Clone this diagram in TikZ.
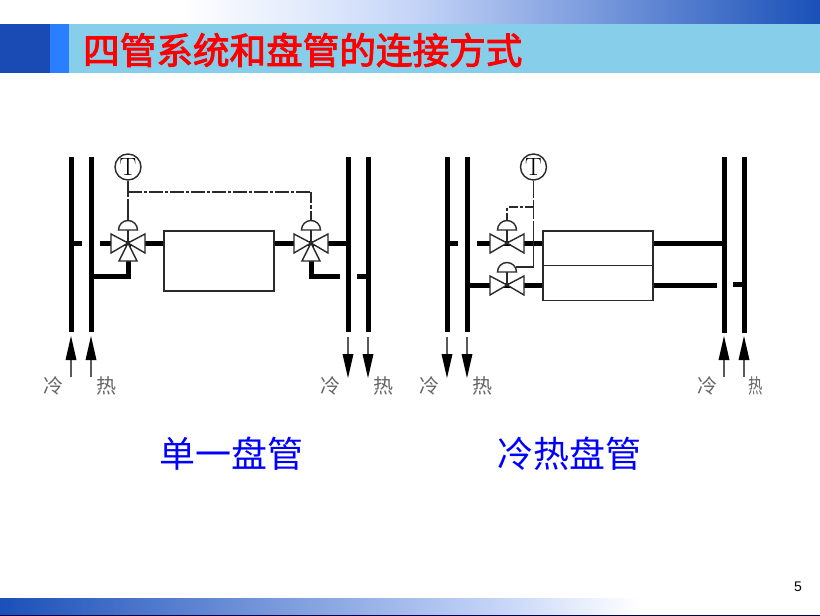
\documentclass[tikz,border=0pt]{standalone}
\usepackage{fontspec}
\newfontfamily\cjk{Noto Sans CJK SC}
\newfontfamily\cjktitle[FakeBold=2.4]{Noto Sans CJK SC}
\setsansfont{Liberation Sans}
\definecolor{tbmid}{HTML}{DDE7FB}
\definecolor{tbmid2}{HTML}{C3D3F7}
\definecolor{tbend}{HTML}{1A50B8}
\definecolor{band}{HTML}{87CEEB}
\definecolor{darkblue}{HTML}{1A4BB5}
\definecolor{midblue}{HTML}{2A7FFF}
\definecolor{lineg}{HTML}{2A2A2A}
\pgfdeclarehorizontalshading{topgrad}{100bp}{
  color(0bp)=(white); color(36bp)=(white);
  color(45bp)=(tbmid); color(50.5bp)=(tbmid2); color(75bp)=(tbend); color(100bp)=(tbend)}
\pgfdeclarehorizontalshading{botgrad}{100bp}{
  color(0bp)=(tbend); color(25bp)=(tbend); color(55bp)=(tbmid2); color(64bp)=(white); color(100bp)=(white)}
\tikzset{
  x=1pt,y=-1pt,
  pipe/.style={line width=5pt,black},
  riser/.style={line width=5pt,black},
  thin box/.style={draw=lineg,line width=1.4pt,fill=white,inner sep=0pt,minimum width=0pt},
  vline/.style={draw=lineg,line width=1.4pt,fill=white,line join=miter},
  ctrl/.style={draw=lineg,line width=1.4pt},
  ctrldash/.style={draw=lineg,line width=1.4pt,dash pattern=on 14pt off 2pt on 3pt off 2pt},
  sensor/.style={circle,draw=lineg,line width=1.4pt,minimum size=26pt,inner sep=0pt,fill=white,font=\fontsize{25}{25}\selectfont},
  flowtail/.style={line width=2pt,black!65},
  flowhead/.style={fill=black,draw=none},
  medium/.style={font=\cjk\fontsize{20}{20}\selectfont,text=black!60,inner sep=0pt},
  caption/.style={font=\cjk\fontsize{36}{36}\selectfont,text=blue,inner sep=0pt},
  valvethree/.pic={
    \path[vline] (0,0) -- (-17,-9) -- (-17,10) -- cycle;
    \path[vline] (0,0) -- (17,-9) -- (17,10) -- cycle;
    \path[vline] (0,0) -- (-9,18) -- (9,18) -- cycle;
    \path[vline] (-9.5,-13) arc[start angle=180,end angle=360,radius=9.5] -- cycle;
    \draw[ctrl] (0,-13) -- (0,0);
  },
  valvetwo/.pic={
    \path[vline] (0,0) -- (-17,-9) -- (-17,10) -- cycle;
    \path[vline] (0,0) -- (17,-9) -- (17,10) -- cycle;
    \path[vline] (-9.5,-13) arc[start angle=180,end angle=360,radius=9.5] -- cycle;
    \draw[ctrl] (0,-13) -- (0,0);
  },
}
\newcommand{\flowup}[1]{%
  \draw[flowtail] (#1,377) -- (#1,358);
  \path[flowhead] (#1,336) -- (#1+5.5,360) -- (#1-5.5,360) -- cycle;}
\newcommand{\flowdown}[1]{%
  \draw[flowtail] (#1,337) -- (#1,356);
  \path[flowhead] (#1,378) -- (#1+5.5,354) -- (#1-5.5,354) -- cycle;}
\begin{document}
\begin{tikzpicture}
\useasboundingbox (0,0) rectangle (820,616);
\fill[white] (0,0) rectangle (820,616);
% header
\shade[shading=topgrad] (0,0) rectangle (820,24);
\fill[band] (0,24) rectangle (820,73);
\fill[darkblue] (0,24) rectangle (50,73);
\fill[midblue] (50,24) rectangle (69,73);
\node[anchor=west,inner sep=0pt,text=red,font=\cjktitle\fontsize{36.6}{36.6}\selectfont] (title) at (83,50) {四管系统和盘管的连接方式};
% footer
\shade[shading=botgrad] (0,598) rectangle (820,616);
\draw[black!70!blue,line width=0.8pt] (0,615.6) -- (820,615.6);
\node[font=\sffamily\fontsize{14}{14}\selectfont,inner sep=0pt] (page) at (798,587) {5};

% ---- single coil
\node[thin box,minimum width=110pt,minimum height=60pt] (coilA) at (219,261) {};
\node[sensor] (tA) at (128,167) {T};
\coordinate (vA1) at (128,243);
\coordinate (vA2) at (311,243);
\draw[riser] (71,157) -- (71,332);
\draw[riser] (91,157) -- (91,332);
\draw[riser] (348,157) -- (348,332);
\draw[riser] (368,157) -- (368,332);
\draw[pipe] (71,243) -- (82,243);
\draw[pipe] (100,243) -- (vA1);
\draw[pipe] (vA1) -- (coilA.west |- vA1);
\draw[pipe] (coilA.east |- vA2) -- (vA2);
\draw[pipe] (vA2) -- (348,243);
\draw[pipe,line join=miter] (91,276) -| (vA1);
\draw[pipe,line join=miter] (vA2) |- (340,276);
\draw[pipe] (357,276) -- (368,276);
\draw[ctrl] (tA.south) -- (128,197);
\draw[ctrl] (128,199) -- (128,230);
\draw[ctrldash] (128,192) -- (311,192);
\draw[ctrl] (311,192) -- (311,203);
\draw[ctrl] (311,205) -- (311,209);
\draw[ctrl] (311,211) -- (311,230);
\pic at (vA1) {valvethree};
\pic at (vA2) {valvethree};
\flowup{71}\flowup{91}\flowdown{348}\flowdown{368}
\node[medium] (a1) at (53,386) {冷};
\node[medium] (a2) at (106,386) {热};
\node[medium] (a3) at (330,386) {冷};
\node[medium] (a4) at (383,386) {热};
\node[caption] (capA) at (231,454) {单一盘管};

% ---- cold/hot coils
\node[thin box,minimum width=110pt,minimum height=35pt] (coilB1) at (598,248.5) {};
\node[thin box,minimum width=110pt,minimum height=35pt] (coilB2) at (598,283) {};
\node[sensor] (tB) at (533.5,167) {T};
\coordinate (vB1) at (507,243);
\coordinate (vB2) at (507,285);
\draw[riser] (447,157) -- (447,332);
\draw[riser] (467,157) -- (467,332);
\draw[riser] (724,157) -- (724,333);
\draw[riser] (744,157) -- (744,333);
\draw[pipe] (447,243) -- (458,243);
\draw[pipe] (477,243) -- (vB1);
\draw[pipe] (vB1) -- (coilB1.west |- vB1);
\draw[pipe] (467,285) -- (vB2);
\draw[pipe] (vB2) -- (coilB2.west |- vB2);
\draw[pipe] (coilB1.east |- vB1) -- (724,243);
\draw[pipe] (coilB2.east |- vB2) -- (717,285);
\draw[pipe] (733,284.5) -- (744,284.5);
\draw[ctrl] (tB.south) -- (533.5,198);
\draw[ctrl] (533.5,200) -- (533.5,219);
\draw[ctrl] (533.5,221) -- (533.5,267) -- (516,267);
\draw[ctrl,dash pattern=on 9pt off 2pt on 3pt off 2pt] (533.5,207) -- (507,207) -- (507,220);
\pic at (vB1) {valvetwo};
\pic at (vB2) {valvetwo};
\flowdown{447}\flowdown{467}\flowup{724}\flowup{744}
\node[medium] (b1) at (429,386) {冷};
\node[medium] (b2) at (482,386) {热};
\node[medium] (b3) at (707,386) {冷};
\node[medium,xscale=.72] (b4) at (756,386) {热};
\node[caption] (capB) at (569,454) {冷热盘管};
\end{tikzpicture}
\end{document}
